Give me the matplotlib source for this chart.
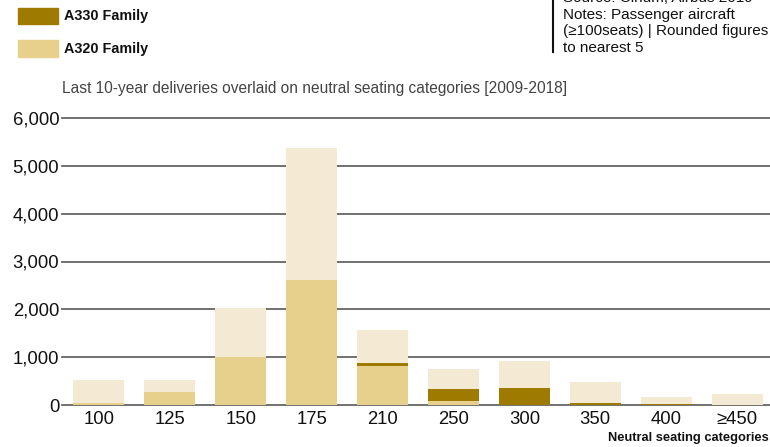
import matplotlib.pyplot as plt
from matplotlib.patches import Rectangle

# neutral seating categories and deliveries 2009-2018
categories = ["100", "125", "150", "175", "210", "250", "300", "350", "400", "≥450"]
total = [530, 520, 2030, 5380, 1570, 755, 920, 480, 170, 230]
a320 = [40, 270, 1000, 2615, 820, 85, 0, 0, 0, 0]
a330 = [0, 0, 0, 0, 60, 250, 355, 50, 25, 0]
yticks = [0, 1000, 2000, 3000, 4000, 5000, 6000]

c_total = "#f4e9d3"
c_a320 = "#e6d08c"
c_a330 = "#9e7b00"

plt.rcParams['font.family'] = ['Liberation Sans', 'DejaVu Sans']

fig = plt.figure(figsize=(7.7, 4.47), dpi=100)
W, H = 770, 447

# axes: x from 62px, 0 at 405px, 6000 at 118px
ax = fig.add_axes([62 / W, 42 / H, (774 - 62) / W, (405 - 118) / H])
x = range(len(categories))
ax.bar(x, total, width=0.72, color=c_total, zorder=3)
ax.bar(x, a320, width=0.72, color=c_a320, zorder=4)
ax.bar(x, a330, width=0.72, bottom=a320, color=c_a330, zorder=4)

for t in yticks:
    ax.axhline(t, color="#666666", lw=1.3, zorder=2, clip_on=False)

ax.set_xlim(-0.52, len(categories) - 0.48)
ax.set_ylim(0, 6000)
ax.set_yticks(yticks)
ax.set_yticklabels([f"{t:,}" for t in yticks], fontsize=13.3, color="#111111")
ax.set_xticks(list(x))
ax.set_xticklabels(categories, fontsize=13.3, color="#111111")
ax.tick_params(length=0, pad=2)
ax.tick_params(axis="x", pad=4)
for s in ax.spines.values():
    s.set_visible(False)

fig.text(62 / W, 1 - 89 / H, "Last 10-year deliveries overlaid on neutral seating categories [2009-2018]",
         fontsize=11.2, color="#444444", va="center")

# legend
fig.add_artist(Rectangle((18 / W, 1 - 24 / H), 40 / W, 16 / H, transform=fig.transFigure,
                         color=c_a330))
fig.add_artist(Rectangle((18 / W, 1 - 57 / H), 40 / W, 17 / H, transform=fig.transFigure,
                         color=c_a320))
fig.text(64 / W, 1 - 16 / H, "A330 Family", fontsize=10.4, fontweight="bold", color="#111111", va="center")
fig.text(64 / W, 1 - 49 / H, "A320 Family", fontsize=10.4, fontweight="bold", color="#111111", va="center")

# source / notes box
fig.add_artist(plt.Line2D([553 / W, 553 / W], [1 - 52 / H, 1.0], transform=fig.transFigure,
                          color="#111111", lw=1.5))
fig.text(563 / W, 1 - 55 / H,
         "Source: Cirium, Airbus 2019\nNotes: Passenger aircraft\n(≥100seats) | Rounded figures\nto nearest 5",
         fontsize=11, color="#111111", va="bottom", linespacing=1.24)

fig.text(608 / W, 1 - 432 / H, "Neutral seating categories", fontsize=9.3, fontweight="bold",
         color="#111111", va="top")

fig.savefig("out.png", dpi=100)
